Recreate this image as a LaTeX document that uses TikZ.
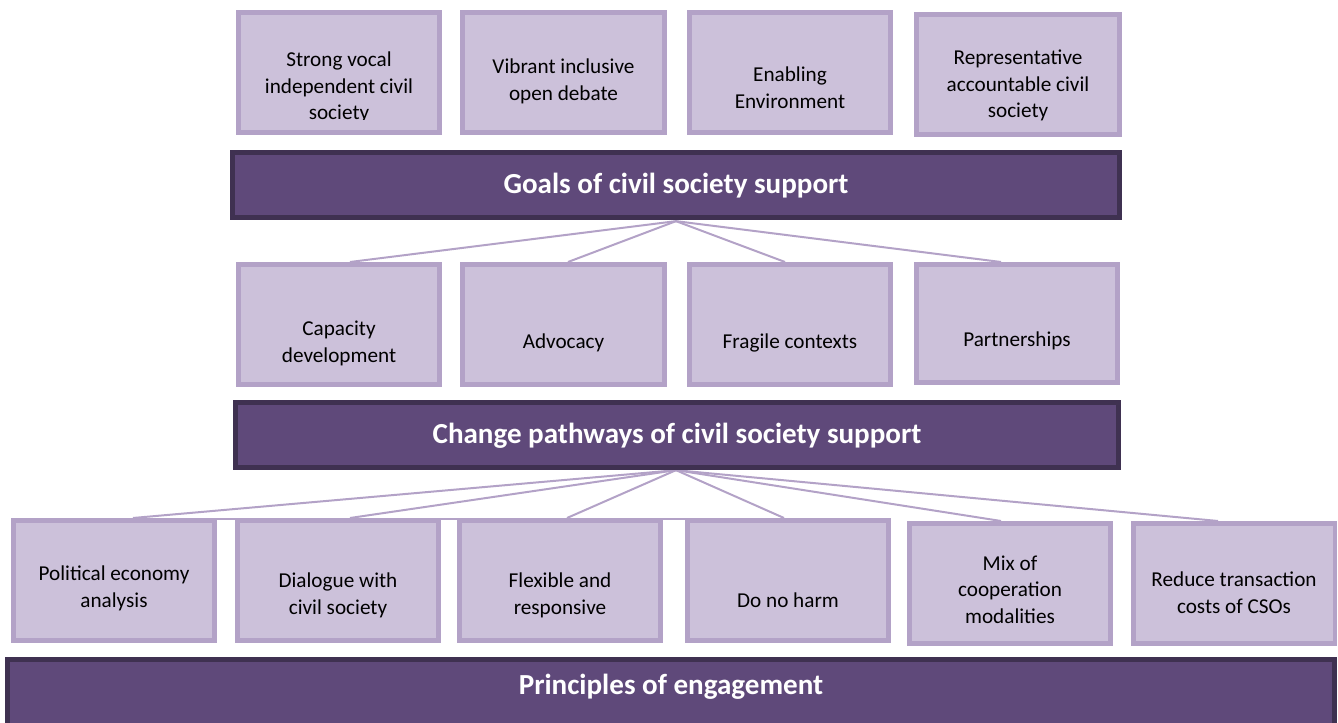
\documentclass[tikz,border=0pt]{standalone}
\usepackage{fontspec}
\setmainfont{Carlito}
\usetikzlibrary{calc,backgrounds}
\definecolor{boxfill}{HTML}{CCC1DA}
\definecolor{boxline}{HTML}{B3A2C7}
\definecolor{barfill}{HTML}{5F497A}
\definecolor{barline}{HTML}{3F3151}

% rectangle node given by its outer corners (x1,y1) (x2,y2)
\newcommand{\cornerbox}[6]{%
  \node[#1, minimum width={(#5-#3-4.5)*0.75pt}, minimum height={(#6-#4-4.5)*0.75pt}]
    (#2) at ({(#3+#5)/2},{(#4+#6)/2}) {};}

\begin{document}
\begin{tikzpicture}[x=0.75pt,y=-0.75pt,
  pbox/.style={draw=boxline, fill=boxfill, line width=3.4pt, inner sep=0pt},
  pbar/.style={draw=barline, fill=barfill, line width=3.6pt, inner sep=0pt},
  txt/.style={align=center, inner sep=0pt, text=black,
    font=\fontsize{15.9}{20}\selectfont},
  bartxt/.style={inner sep=0pt, text=white,
    font=\fontsize{21.8}{26}\selectfont\bfseries},
  conn/.style={draw=boxline, line width=1.5pt}]
\useasboundingbox (0,0) rectangle (1338,722);

% goals
\cornerbox{pbox}{g1}{236}{10}{442}{135}
\cornerbox{pbox}{g2}{460}{10}{667}{135}
\cornerbox{pbox}{g3}{687}{10}{893}{135}
\cornerbox{pbox}{g4}{914}{12}{1122}{137}
\begin{scope}
  \clip (236,10) rectangle (442,119);
  \node[txt] (g1t) at ($(g1.center)+(0,15)$) {Strong vocal\\independent civil\\society};
\end{scope}
\node[txt] (g2t) at ($(g2.center)+(0,9)$) {Vibrant inclusive\\open debate};
\node[txt] (g3t) at ($(g3.center)+(0,15)$) {Enabling\\Environment};
\node[txt] (g4t) at ($(g4.center)+(0,11)$) {Representative\\accountable civil\\society};

\cornerbox{pbar}{goals}{230}{150}{1122}{220}
\node[bartxt] (goalst) at ($(goals.center)+(0,1)$) {Goals of civil society support};

% change pathways
\cornerbox{pbox}{m1}{236}{262}{442}{387}
\cornerbox{pbox}{m2}{460}{262}{667}{387}
\cornerbox{pbox}{m3}{687}{262}{893}{387}
\cornerbox{pbox}{m4}{914}{262}{1120}{385}
\node[txt] (m1t) at ($(m1.center)+(0,19)$) {Capacity\\development};
\node[txt] (m2t) at ($(m2.center)+(0,18)$) {Advocacy};
\node[txt] (m3t) at ($(m3.center)+(0,18)$) {Fragile contexts};
\node[txt] (m4t) at ($(m4.center)+(0,17)$) {Partnerships};

\cornerbox{pbar}{change}{233}{400}{1121}{470}
\node[bartxt] (changet) at ($(change.center)+(0,1)$) {Change pathways of civil society support};

% principles
\cornerbox{pbox}{b1}{11}{518}{217}{643}
\cornerbox{pbox}{b2}{235}{518}{441}{643}
\cornerbox{pbox}{b3}{457}{518}{663}{643}
\cornerbox{pbox}{b4}{685}{518}{891}{643}
\cornerbox{pbox}{b5}{907}{521}{1113}{646}
\cornerbox{pbox}{b6}{1131}{521}{1337}{646}
\node[txt] (b1t) at ($(b1.center)+(0,8)$) {Political economy\\analysis};
\node[txt] (b2t) at ($(b2.center)+(0,15)$) {Dialogue with\\civil society};
\node[txt] (b3t) at ($(b3.center)+(0,15)$) {Flexible and\\responsive};
\node[txt] (b4t) at ($(b4.center)+(0,20)$) {Do no harm};
\node[txt] (b5t) at ($(b5.center)+(0,6)$) {Mix of\\cooperation\\modalities};
\node[txt] (b6t) at ($(b6.center)+(0,9)$) {Reduce transaction\\costs of CSOs};

\cornerbox{pbar}{princ}{5}{657}{1337}{728}
\node[bartxt] (princt) at (671,687) {Principles of engagement};

% connectors, behind the boxes
\begin{scope}[on background layer]
  \coordinate (ga) at ($(goals.south)+(0,1)$);
  \draw[conn] (ga) -- ($(m1.north)+(11,0)$);
  \draw[conn] (ga) -- ($(m2.north)+(4.5,0)$);
  \draw[conn] (ga) -- ($(m3.north)+(-5,0)$);
  \draw[conn] (ga) -- ($(m4.north)+(-16,0)$);
  \coordinate (ca) at ($(change.south)+(-1,0)$);
  \draw[conn] (ca) -- ($(b1.north)+(19,0)$);
  \draw[conn] (ca) -- ($(b2.north)+(12,0)$);
  \draw[conn] (ca) -- ($(b3.north)+(7,0)$);
  \draw[conn] (ca) -- ($(b4.north)+(-4,0)$);
  \draw[conn] (ca) -- ($(b5.north)+(-9,0)$);
  \draw[conn] (ca) -- ($(b6.north)+(-16,0)$);
  \draw[conn] ($(b1.north)+(19,1)$) -- ($(b4.north)+(-4,1)$);
\end{scope}
\end{tikzpicture}
\end{document}
